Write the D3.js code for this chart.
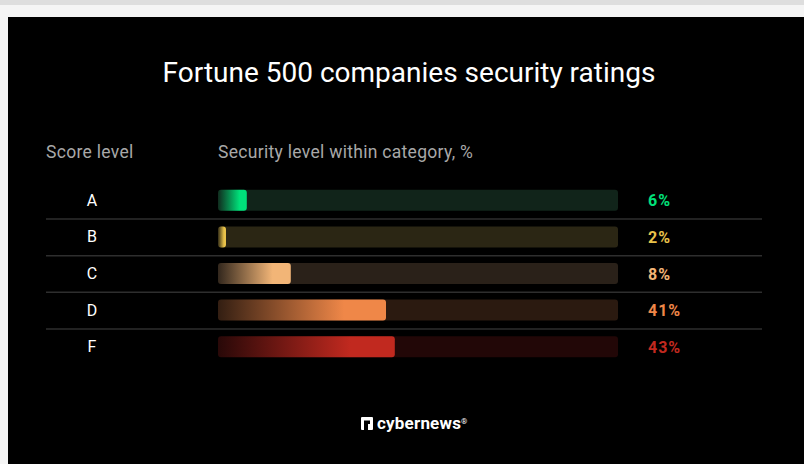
<!DOCTYPE html>
<html>
<head>
<meta charset="utf-8">
<title>Fortune 500 security ratings</title>
<style>
  body { margin: 0; background: #f5f5f5; }
  svg { display: block; font-family: Roboto, "Noto Sans", sans-serif; }
</style>
</head>
<body>
<svg class="chart"></svg>
<script src="https://cdn.jsdelivr.net/npm/d3@7"></script>
<script>
// score levels and their share of companies
var levels = ["A", "B", "C", "D", "F"];
var shares = [6, 2, 8, 41, 43];
// bar lengths as drawn in the original graphic (% of track)
var barLengths = [7.2, 2, 18.2, 42, 44.2];
var barColors = ["#00e07a", "#e9c24a", "#f2b577", "#ef8748", "#c1291f"];
var trackColors = ["#11241a", "#2b2614", "#2a2119", "#2b1a10", "#220707"];

var W = 804, H = 464;
var svg = d3.select(".chart").attr("width", W).attr("height", H);

svg.append("rect").attr("width", W).attr("height", 5).attr("fill", "#dedede");
svg.append("rect").attr("x", 8).attr("y", 17).attr("width", W - 8).attr("height", H - 17).attr("fill", "#000");

svg.append("text")
  .attr("x", 409).attr("y", 82)
  .attr("text-anchor", "middle")
  .attr("fill", "#fff")
  .attr("font-size", 28)
  .text("Fortune 500 companies security ratings");

svg.append("text").attr("x", 46).attr("y", 158)
  .attr("fill", "#a8a8a8").attr("font-size", 17.5).attr("letter-spacing", 0.3).text("Score level");
svg.append("text").attr("x", 218).attr("y", 158)
  .attr("fill", "#a8a8a8").attr("font-size", 17.5).attr("letter-spacing", 0.3).text("Security level within category, %");

var y = d3.scaleBand().domain(levels).range([182, 365]).paddingInner(0);
var x = d3.scaleLinear().domain([0, 100]).range([218, 618]);
var barH = 21;

var defs = svg.append("defs");
levels.forEach(function(l, i) {
  var g = defs.append("linearGradient").attr("id", "grad" + l);
  g.append("stop").attr("offset", "0").attr("stop-color", barColors[i]).attr("stop-opacity", 0.04);
  g.append("stop").attr("offset", "0.75").attr("stop-color", barColors[i]).attr("stop-opacity", 1);
  g.append("stop").attr("offset", "1").attr("stop-color", barColors[i]).attr("stop-opacity", 1);
});

// separators
svg.append("g").selectAll("line")
  .data(levels.slice(1))
  .enter().append("line")
  .attr("x1", 46).attr("x2", 762)
  .attr("y1", function(d) { return y(d) + 0.5; })
  .attr("y2", function(d) { return y(d) + 0.5; })
  .attr("stroke", "#2e2e2e").attr("stroke-width", 1.5);

var rows = svg.append("g").selectAll("g")
  .data(levels)
  .enter().append("g")
  .attr("transform", function(d) { return "translate(0," + (y(d) + y.bandwidth() / 2) + ")"; });

rows.append("text")
  .attr("x", 92).attr("y", 5.5)
  .attr("text-anchor", "middle")
  .attr("fill", "#fff").attr("font-size", 16)
  .text(function(d) { return d; });

rows.append("rect")
  .attr("x", x(0)).attr("y", -barH / 2)
  .attr("width", x(100) - x(0)).attr("height", barH)
  .attr("rx", 3)
  .attr("fill", function(d, i) { return trackColors[i]; });

rows.append("rect")
  .attr("x", x(0)).attr("y", -barH / 2)
  .attr("width", function(d, i) { return x(barLengths[i]) - x(0); })
  .attr("height", barH)
  .attr("rx", 3)
  .attr("fill", function(d) { return "url(#grad" + d + ")"; });

rows.append("text")
  .attr("x", 648).attr("y", 6)
  .attr("fill", function(d, i) { return barColors[i]; })
  .attr("font-size", 16).attr("font-weight", "bold")
  .attr("letter-spacing", 1)
  .text(function(d, i) { return shares[i] + "%"; });

// logo
var logo = svg.append("g").attr("transform", "translate(361,417)");
logo.append("rect").attr("x", 0).attr("y", 0).attr("width", 12).attr("height", 13).attr("rx", 1).attr("fill", "#fff");
logo.append("path").attr("d", "M3,13 V3.5 H9 V7 H7 V13 Z").attr("fill", "#000");
logo.append("text").attr("x", 16).attr("y", 11.5)
  .attr("fill", "#fff").attr("font-size", 17).attr("font-weight", "bold")
  .attr("letter-spacing", 0.2)
  .text("cybernews");
logo.append("text").attr("x", 100).attr("y", 7)
  .attr("fill", "#fff").attr("font-size", 8).text("®");
</script>
</body>
</html>
